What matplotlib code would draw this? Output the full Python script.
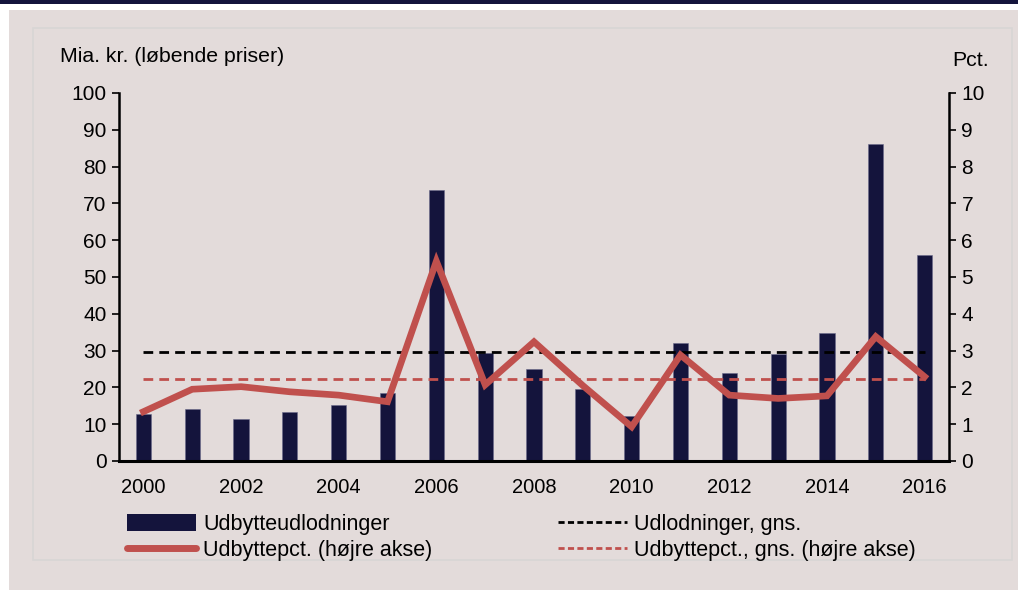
import matplotlib
matplotlib.use("Agg")
import matplotlib.pyplot as plt
from matplotlib.patches import Rectangle
from matplotlib.lines import Line2D

plt.rcParams["font.family"] = ["Liberation Sans", "DejaVu Sans"]

NAVY = "#14143c"
RED = "#c0504d"
BG = "#e3dbda"

years = list(range(2000, 2017))
udlodninger = [12.7, 14.0, 11.3, 13.3, 15.2, 18.4, 73.6, 29.3, 24.9, 19.5,
               12.2, 32.2, 24.0, 29.0, 34.9, 86.1, 56.0]
udbyttepct = [1.34, 1.95, 2.02, 1.88, 1.79, 1.61, 5.43, 2.07, 3.24, 2.05,
              0.93, 2.88, 1.79, 1.70, 1.77, 3.38, 2.29]
udl_gns = 29.7
pct_gns = 2.22

fig = plt.figure(figsize=(10.18, 5.9), dpi=100)
fig.patch.set_facecolor("white")

# background panels
fig.patches.append(Rectangle((9 / 1018, 0), 1 - 9 / 1018, 1 - 10 / 590,
                             transform=fig.transFigure, facecolor=BG,
                             edgecolor="none", zorder=-3))
fig.patches.append(Rectangle((0, 1 - 4 / 590), 1, 4 / 590,
                             transform=fig.transFigure, facecolor=NAVY,
                             edgecolor="none", zorder=-2))
fig.patches.append(Rectangle((33 / 1018, 1 - 560 / 590), 979 / 1018, 532 / 590,
                             transform=fig.transFigure, facecolor="none",
                             edgecolor="#d8d5d5", lw=1.2, zorder=-1))

ax = fig.add_axes([119 / 1018, 1 - 461 / 590, 830 / 1018, 368 / 590])
ax.patch.set_alpha(0)
x = list(range(len(years)))

ax.bar(x, udlodninger, width=0.31, color=NAVY, edgecolor="#6a6a8a",
       linewidth=0.4, zorder=2)
ax.plot([x[0], x[-1]], [udl_gns, udl_gns], color="black", lw=2,
        dashes=(3.5, 2.2), zorder=3)

ax.set_xlim(-0.5, len(years) - 0.5)
ax.set_ylim(0, 100)
ax.set_yticks(range(0, 101, 10))
ax.set_xticks(x[::2])
ax.set_xticklabels([str(y) for y in years[::2]])
ax.tick_params(axis="x", length=0, labelsize=14.5, pad=12)
ax.tick_params(axis="y", direction="out", length=5, width=1.2, labelsize=15, pad=4)
for s in ["top", "right"]:
    ax.spines[s].set_visible(False)
ax.spines["left"].set_linewidth(1.8)
ax.spines["bottom"].set_linewidth(2.2)

ax2 = ax.twinx()
ax2.plot(x, udbyttepct, color=RED, lw=4.8, solid_joinstyle="miter", zorder=4)
ax2.plot([x[0], x[-1]], [pct_gns, pct_gns], color=RED, lw=2,
         dashes=(3.5, 2.2), zorder=3)
ax2.set_ylim(0, 10)
ax2.set_yticks(range(0, 11))
ax2.tick_params(axis="y", direction="out", length=5, width=1.2, labelsize=15, pad=4)
for s in ["top", "left", "bottom"]:
    ax2.spines[s].set_visible(False)
ax2.spines["right"].set_linewidth(1.8)

fig.text(60 / 1018, 1 - 57 / 590, "Mia. kr. (løbende priser)", fontsize=15.3,
         ha="left", va="center")
fig.text(989 / 1018, 1 - 60 / 590, "Pct.", fontsize=15.3, ha="right", va="center")

leg_kw = dict(loc="upper left", frameon=False, fontsize=15.5, handlelength=3.2,
              handleheight=0.8, handletextpad=0.35, labelspacing=0.22,
              borderpad=0, borderaxespad=0)
leg1 = fig.legend(
    [Rectangle((0, 0), 1, 1, facecolor=NAVY, edgecolor="none"),
     Line2D([], [], color=RED, lw=5, solid_capstyle="round")],
    ["Udbytteudlodninger", "Udbyttepct. (højre akse)"],
    bbox_to_anchor=(127 / 1018, 1 - 514 / 590), **leg_kw)
leg2 = fig.legend(
    [Line2D([], [], color="black", lw=2, dashes=(2.2, 1.2)),
     Line2D([], [], color=RED, lw=2, dashes=(2.2, 1.2))],
    ["Udlodninger, gns.", "Udbyttepct., gns. (højre akse)"],
    bbox_to_anchor=(558 / 1018, 1 - 514 / 590), **leg_kw)

fig.savefig("out.png", dpi=100, facecolor=fig.get_facecolor())
